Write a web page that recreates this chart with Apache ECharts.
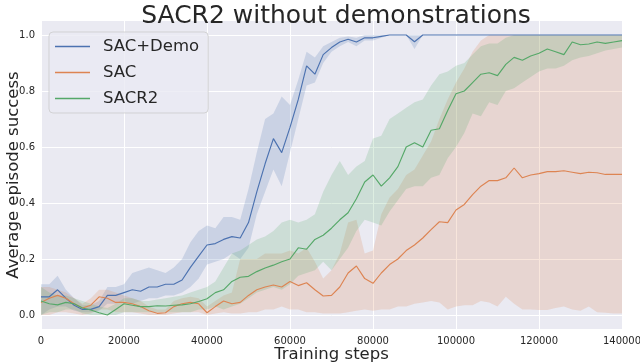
<!DOCTYPE html>
<html>
<head>
<meta charset="utf-8">
<script src="https://cdn.jsdelivr.net/npm/echarts@6/dist/echarts.min.js"></script>
<style>
html,body{margin:0;padding:0;background:#fff;}
#c{width:640px;height:363px;}
</style>
</head>
<body>
<div id="c"></div>
<script>
// Training steps (x), every 2000 steps
const steps = [];
for (let s = 0; s <= 140000; s += 2000) steps.push(s);

const xTicks = [0, 20000, 40000, 60000, 80000, 100000, 120000, 140000];
const yTicks = [0.0, 0.2, 0.4, 0.6, 0.8, 1.0];

const seriesNames = ['SAC+Demo', 'SAC', 'SACR2'];

// SAC+Demo
const demoMean = [0.065,0.065,0.09,0.06,0.035,0.02,0.02,0.03,0.07,0.07,0.08,0.09,0.085,0.1,0.1,0.11,0.11,0.125,0.17,0.21,0.25,0.255,0.27,0.28,0.275,0.33,0.44,0.54,0.63,0.58,0.67,0.77,0.89,0.86,0.93,0.955,0.975,0.985,0.975,0.99,0.99,0.995,1,1,1,0.976,1,1,1,1,1,1,1,1,1,1,1,1,1,1,1,1,1,1,1,1,1,1,1,1,1];
const demoLow  = [0,0.02,0.03,0.03,0.015,0.01,0.01,0.015,0.04,0.04,0.05,0.04,0.05,0.06,0.06,0.07,0.07,0.08,0.1,0.13,0.18,0.19,0.2,0.22,0.2,0.24,0.36,0.44,0.52,0.46,0.58,0.7,0.82,0.83,0.9,0.94,0.96,0.975,0.96,0.98,0.98,0.99,1,1,1,0.95,1,1,1,1,1,1,1,1,1,1,1,1,1,1,1,1,1,1,1,1,1,1,1,1,1];
const demoHigh = [0.11,0.11,0.14,0.09,0.06,0.035,0.035,0.05,0.1,0.1,0.11,0.15,0.16,0.17,0.16,0.15,0.17,0.2,0.26,0.3,0.32,0.31,0.35,0.35,0.34,0.45,0.58,0.7,0.72,0.78,0.75,0.84,0.94,0.92,0.96,0.975,0.99,0.995,0.99,1,1,1,1,1,1,1,1,1,1,1,1,1,1,1,1,1,1,1,1,1,1,1,1,1,1,1,1,1,1,1,1];

// SAC
const sacMean = [0.045,0.06,0.07,0.06,0.04,0.025,0.035,0.065,0.06,0.045,0.045,0.04,0.03,0.015,0.006,0.008,0.03,0.04,0.045,0.04,0.008,0.03,0.05,0.04,0.045,0.07,0.09,0.1,0.107,0.1,0.12,0.105,0.115,0.09,0.068,0.07,0.1,0.15,0.175,0.13,0.113,0.15,0.18,0.2,0.23,0.25,0.275,0.305,0.333,0.33,0.375,0.395,0.43,0.46,0.48,0.48,0.49,0.525,0.49,0.5,0.505,0.512,0.512,0.515,0.51,0.505,0.51,0.508,0.502,0.502,0.502];
const sacLow  = [0,0,0.01,0.01,0.005,0,0.005,0.02,0.02,0.01,0.01,0.01,0.005,0,0,0,0.005,0.01,0.01,0.01,0,0.005,0.01,0.005,0.005,0.01,0.01,0.02,0.02,0.03,0.02,0.02,0.01,0.01,0.005,0.005,0.005,0.01,0.015,0.02,0.015,0.02,0.02,0.03,0.03,0.04,0.045,0.05,0.045,0.02,0.03,0.035,0.035,0.05,0.045,0.03,0.065,0.04,0.02,0.02,0.018,0.018,0.025,0.03,0.02,0.015,0.03,0.01,0.008,0.005,0.005];
const sacHigh = [0.1,0.1,0.09,0.08,0.06,0.04,0.06,0.09,0.09,0.08,0.07,0.06,0.05,0.03,0.02,0.02,0.05,0.06,0.065,0.06,0.03,0.05,0.07,0.08,0.2,0.2,0.2,0.22,0.22,0.22,0.23,0.22,0.24,0.19,0.13,0.16,0.22,0.33,0.34,0.22,0.23,0.36,0.42,0.45,0.5,0.52,0.57,0.62,0.7,0.77,0.83,0.88,0.94,0.98,1,1,1,1,1,1,1,1,1,1,1,1,1,1,1,1,1];

// SACR2
const r2Mean = [0.05,0.04,0.036,0.045,0.04,0.025,0.018,0.008,0,0.02,0.04,0.035,0.03,0.03,0.033,0.032,0.035,0.036,0.04,0.048,0.058,0.08,0.09,0.12,0.135,0.138,0.155,0.168,0.178,0.19,0.2,0.24,0.235,0.27,0.285,0.31,0.34,0.365,0.415,0.475,0.5,0.46,0.49,0.53,0.6,0.615,0.6,0.66,0.665,0.73,0.79,0.8,0.83,0.86,0.865,0.855,0.895,0.92,0.91,0.925,0.935,0.95,0.94,0.93,0.975,0.965,0.968,0.975,0.97,0.975,0.98];
const r2Low  = [0,0.01,0.01,0.02,0.02,0.005,0,0,0,0,0.01,0.01,0.01,0.01,0.01,0.01,0.01,0.01,0.01,0.02,0.02,0.03,0.02,0.03,0.04,0.06,0.08,0.09,0.1,0.09,0.11,0.14,0.15,0.16,0.19,0.16,0.2,0.24,0.3,0.34,0.33,0.32,0.37,0.41,0.45,0.46,0.46,0.49,0.5,0.56,0.6,0.65,0.72,0.71,0.76,0.75,0.8,0.81,0.83,0.85,0.87,0.88,0.88,0.89,0.91,0.92,0.925,0.935,0.945,0.95,0.955];
const r2High = [0.1,0.08,0.07,0.07,0.06,0.05,0.04,0.03,0.025,0.04,0.06,0.06,0.05,0.05,0.055,0.06,0.065,0.07,0.08,0.09,0.1,0.12,0.17,0.22,0.23,0.25,0.27,0.28,0.3,0.33,0.34,0.33,0.34,0.36,0.44,0.5,0.55,0.5,0.53,0.55,0.63,0.64,0.7,0.72,0.74,0.76,0.77,0.82,0.86,0.87,0.89,0.9,0.93,0.96,0.97,0.97,0.99,1,1,1,1,1,1,1,1,1,1,1,1,1,1,1,1];

const colors = ['#4C72B0', '#DD8452', '#55A868'];
const means = [demoMean, sacMean, r2Mean];
const lows = [demoLow, sacLow, r2Low];
const highs = [demoHigh, sacHigh, r2High];

const FONT = 'DejaVu Sans';
const TXT = '#262626';

function bandRenderer(k) {
  return function (params, api) {
    if (params.dataIndex !== 0) return null;
    const up = [], dn = [];
    for (let i = 0; i < steps.length; i++) {
      up.push(api.coord([steps[i], highs[k][i]]));
      dn.push(api.coord([steps[i], lows[k][i]]));
    }
    const pts = up.concat(dn.reverse());
    return {
      type: 'polygon',
      shape: { points: pts },
      style: { fill: colors[k], opacity: 0.2 },
      silent: true
    };
  };
}

const series = [];
for (let k = 0; k < 3; k++) {
  series.push({
    name: seriesNames[k] + ' band', type: 'custom', silent: true,
    data: steps.map((s, i) => [s, lows[k][i], highs[k][i]]),
    encode: { x: 0, y: [1, 2] },
    renderItem: bandRenderer(k),
    z: 2, clip: false
  });
  series.push({
    name: seriesNames[k], type: 'line',
    data: steps.map((s, i) => [s, means[k][i]]),
    showSymbol: false, symbol: 'none',
    itemStyle: { color: colors[k] },
    lineStyle: { color: colors[k], width: 1.15 },
    z: 3, clip: false
  });
}

const chart = echarts.init(document.getElementById('c'), null, { renderer: 'canvas' });
chart.setOption({
  animation: false,
  backgroundColor: '#ffffff',
  textStyle: { fontFamily: FONT },
  title: {
    text: 'SACR2 without demonstrations',
    left: 331, top: -1, textAlign: 'center',
    textStyle: { fontFamily: FONT, fontSize: 25, fontWeight: 'normal', color: TXT }
  },
  grid: { left: 41, right: 18, top: 21, bottom: 34, outerBoundsMode: 'none', containLabel: false,
          show: true, backgroundColor: '#EAEAF2', borderWidth: 0 },
  legend: {
    data: seriesNames,
    orient: 'vertical',
    left: 49, top: 32,
    icon: 'rect', itemWidth: 35, itemHeight: 1.5, itemGap: 9,
    padding: [6, 9, 6, 6],
    backgroundColor: 'rgba(234,234,242,0.8)',
    borderColor: 'rgba(204,204,204,0.8)', borderWidth: 1, borderRadius: 4,
    textStyle: { fontFamily: FONT, fontSize: 16.5, color: TXT, padding: [0, 0, 0, 8] }
  },
  xAxis: {
    type: 'value', min: 0, max: 140000, interval: 20000,
    name: 'Training steps', nameLocation: 'middle', nameGap: 17, nameMoveOverlap: false,
    nameTextStyle: { fontFamily: FONT, fontSize: 16.5, color: TXT },
    axisLine: { show: false }, axisTick: { show: false },
    axisLabel: { fontFamily: FONT, fontSize: 10, color: TXT, margin: 7, formatter: v => String(v) },
    splitLine: { show: true, lineStyle: { color: '#ffffff', width: 1 } }
  },
  yAxis: {
    type: 'value', min: -0.05, max: 1.05,
    name: 'Average episode success', nameLocation: 'middle', nameGap: 19, nameMoveOverlap: false,
    nameTextStyle: { fontFamily: FONT, fontSize: 16.5, color: TXT },
    axisLine: { show: false },
    axisTick: { show: false, customValues: yTicks },
    axisLabel: { fontFamily: FONT, fontSize: 10, color: TXT, margin: 6, formatter: v => v.toFixed(1), customValues: yTicks },
    splitLine: { show: true, lineStyle: { color: '#ffffff', width: 1 } }
  },
  series: series
});
</script>
</body>
</html>
